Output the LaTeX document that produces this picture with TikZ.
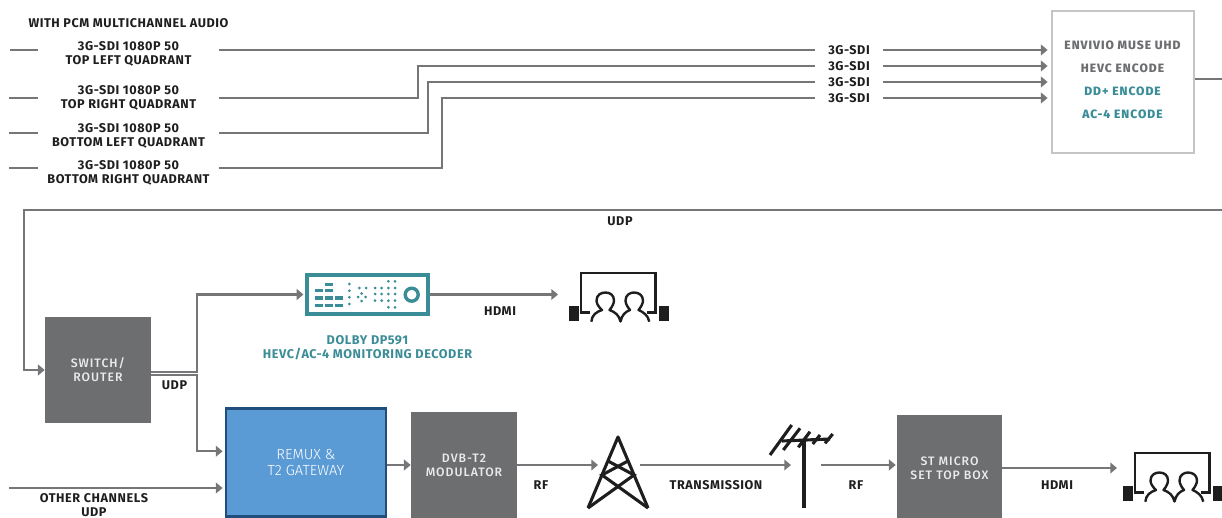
\documentclass[tikz,border=0pt]{standalone}
\usepackage{fontspec}
\setmainfont{Fira Sans}[LetterSpace=4.5]
\newfontfamily\boxfont{Fira Sans Medium}[LetterSpace=8]
\newfontfamily\plainfont{Fira Sans Light}[LetterSpace=0]
\usepackage{xcolor}
\usetikzlibrary{arrows.meta, positioning}
\definecolor{wiregray}{RGB}{118,118,120}
\definecolor{boxgray}{RGB}{109,110,112}
\definecolor{framegray}{RGB}{196,198,198}
\definecolor{tealtext}{RGB}{58,140,150}
\definecolor{remuxblue}{RGB}{91,155,213}
\definecolor{remuxedge}{RGB}{31,78,125}
\definecolor{icondark}{RGB}{30,30,30}
\tikzset{
    wire/.style={draw=wiregray, line width=1.5pt},
    flow/.style={wire, -{Triangle[length=4.8pt,width=7.6pt]}},
    caption/.style={font=\bfseries\fontsize{9}{10}\selectfont, align=center, inner sep=0pt, text=icondark},
    tealcaption/.style={caption, text=tealtext},
    sdilabel/.style={caption, minimum width=68*0.025cm},
    quadlabel/.style={caption, minimum width=180*0.025cm},
    graybox/.style={fill=boxgray, text=white!92!black, align=center, inner sep=0pt,
                    font=\boxfont\fontsize{8.7}{10}\selectfont},
    iconline/.style={draw=icondark, line width=2.2pt},
    tealbar/.style={fill=tealtext, draw=none},
    pics/viewers/.style={code={
        \draw[draw=icondark, line width=1.7pt] (9,39.5) -- (0,39.5) -- (0,0) -- (74.5,0) -- (74.5,39.5) -- (66,39.5);
        \fill[icondark] (-11.7,33) rectangle (-1.7,48);
        \fill[icondark] (77.7,33) rectangle (87.7,48);
        \draw[draw=icondark, line width=1.7pt, line join=round]
          (10.3,48.7) .. controls (11,42) and (15,39) .. (21,37)
          .. controls (17,33.5) and (15.5,30) .. (15.5,27.5)
          .. controls (15.5,22) and (20,19.5) .. (24.3,19.5)
          .. controls (29,19.5) and (33,22) .. (33,27.5)
          .. controls (33,30) and (31.5,33.5) .. (28.5,37)
          .. controls (34,39) and (38,42) .. (39.5,48.5)
          .. controls (41,42) and (44,39) .. (49,37)
          .. controls (46,33.5) and (44.5,30) .. (44.5,27.5)
          .. controls (44.5,22) and (49,19.5) .. (53,19.5)
          .. controls (57.5,19.5) and (62,22) .. (62,27.5)
          .. controls (62,30) and (60.5,33.5) .. (57.5,37)
          .. controls (62,39) and (67,42) .. (68.3,48.7);
    }},
}
\begin{document}
\begin{tikzpicture}[x=0.025cm, y=-0.025cm]
    \useasboundingbox (0,0) rectangle (1222,518);

    % sources
    \node[caption] (heading) at (128.5,23) {WITH PCM MULTICHANNEL AUDIO};
    \node[quadlabel] (quadone) at (128.5,53.5) {3G-SDI 1080P 50\\TOP LEFT QUADRANT};
    \node[quadlabel] (quadtwo) at (128.5,97.5) {3G-SDI 1080P 50\\TOP RIGHT QUADRANT};
    \node[quadlabel] (quadthree) at (128.5,135.5) {3G-SDI 1080P 50\\BOTTOM LEFT QUADRANT};
    \node[quadlabel] (quadfour) at (128.5,172.5) {3G-SDI 1080P 50\\BOTTOM RIGHT QUADRANT};
    \coordinate (srcone) at (10,50);
    \coordinate (srctwo) at (9,98);
    \coordinate (srcthree) at (9,133);
    \coordinate (srcfour) at (9,168);

    \node[sdilabel] (sdione) at (849,50) {3G-SDI};
    \node[sdilabel] (sditwo) at (849,66) {3G-SDI};
    \node[sdilabel] (sdithree) at (849,82) {3G-SDI};
    \node[sdilabel] (sdifour) at (849,98) {3G-SDI};

    % encoder
    \node[draw=framegray, line width=2pt, minimum width=142*0.025cm, minimum height=142*0.025cm] (encoder) at (1123,82) {};
    \node[caption, text=boxgray, font=\boxfont\bfseries\fontsize{8.6}{10}\selectfont] (enctext) at (1122.5,79.5)
      {ENVIVIO MUSE UHD\\[6.3pt]HEVC ENCODE\\[6.3pt]\textcolor{tealtext}{DD+ ENCODE}\\[6.3pt]\textcolor{tealtext}{AC-4 ENCODE}};

    \draw[wire] (srcone) -- (srcone -| quadone.west);
    \draw[wire] (srctwo) -- (srctwo -| quadtwo.west);
    \draw[wire] (srcthree) -- (srcthree -| quadthree.west);
    \draw[wire] (srcfour) -- (srcfour -| quadfour.west);
    \draw[wire] (srcone -| quadone.east) -- (srcone -| sdione.west);
    \draw[wire] (srctwo -| quadtwo.east) -- ++(199,0) |- (sditwo.west);
    \draw[wire] (srcthree -| quadthree.east) -- ++(209,0) |- (sdithree.west);
    \draw[wire] (srcfour -| quadfour.east) -- ++(223,0) |- (sdifour.west);
    \draw[flow, shorten >=3*0.025cm] (sdione.east) -- (sdione.east -| encoder.west);
    \draw[flow, shorten >=3*0.025cm] (sditwo.east) -- (sditwo.east -| encoder.west);
    \draw[flow, shorten >=3*0.025cm] (sdithree.east) -- (sdithree.east -| encoder.west);
    \draw[flow, shorten >=3*0.025cm] (sdifour.east) -- (sdifour.east -| encoder.west);

    % return path
    \coordinate (encout) at (1222,79);
    \coordinate (loopin) at (1222,210);
    \coordinate (loopturn) at (24,210);
    \draw[wire] (encout -| encoder.east) -- (encout);
    \node[caption] (udptop) at (620,221) {UDP};

    % switch and monitoring
    \node[graybox, minimum width=106*0.025cm, minimum height=106*0.025cm] (switch) at (98,370) {SWITCH/\\ROUTER};
    \draw[flow] (loopin) -- (loopturn) |- (switch.west);
    \node[caption] (udpswitch) at (174.5,385.5) {UDP};

    \node[draw=tealtext, line width=2.2pt, minimum width=121*0.025cm, minimum height=39*0.025cm] (decoder) at (367.5,294.5) {};
    \foreach \px/\py in {315/290.7, 315/298, 315/305.3, 325/284.7, 325/290.7, 325/298, 325/305.3, 335/298, 335/305.3}
      \fill[tealbar] (\px,\py-1.7) rectangle ++(7.5,3.4);
    \foreach \px/\py in {349.3/284, 349.3/290.7, 349.3/297.3, 349.3/304,
                         359.3/288, 366/288, 361.7/293.5, 358/297, 365.5/297, 361.7/301,
                         375/288, 381.7/288, 388.3/288, 395/288,
                         375/294, 381.7/294, 388.3/294, 395/294,
                         375/300.7, 381.7/300.7, 388.3/300.7, 395/300.7,
                         388.3/281.3, 395/281.3, 388.3/307.3, 395/307.3}
      \fill[tealbar] (\px,\py) circle (1.5);
    \draw[draw=tealtext, line width=2.4pt] (411.7,294.7) circle (6.5);
    \node[tealcaption] (decodertext) at (367.5,348) {DOLBY DP591\\HEVC/AC-4 MONITORING DECODER};

    \coordinate (tvonein) at (558,294.5);
    \draw[flow] (decoder.east) -- (tvonein);
    \node[caption] (hdmione) at (500,311) {HDMI};
    \pic at (581,273) {viewers};
    \draw[flow, shorten >=2*0.025cm] ([yshift=-1.4pt]switch.east) -- ++(46,0) |- (decoder.west);

    % transmission chain
    \node[fill=remuxblue, draw=remuxedge, line width=2pt, text=white, align=center, inner sep=0pt,
          font=\plainfont\fontsize{10.4}{11}\selectfont, minimum width=160*0.025cm, minimum height=108*0.025cm] (remux) at (306,462.5) {REMUX \&\\T2 GATEWAY};
    \node[graybox, minimum width=106*0.025cm, minimum height=106*0.025cm] (modulator) at (464,465) {DVB-T2\\MODULATOR};
    \node[graybox, minimum width=105*0.025cm, minimum height=106*0.025cm] (settop) at (949.5,468) {ST MICRO\\SET TOP BOX};

    \draw[flow, shorten >=2*0.025cm] ([yshift=-3.4pt]switch.east) -- ++(46,0) |- ([yshift=8pt]remux.west);
    \coordinate (otherin) at (9,488);
    \draw[flow, shorten >=2*0.025cm] (otherin) -- (otherin -| remux.west);
    \node[caption] (othertext) at (94,505.5) {OTHER CHANNELS\\UDP};
    \draw[flow] (remux.east |- modulator.west) -- (modulator.west);

    \coordinate (towerin) at (598,465);
    \coordinate (towerout) at (640,465);
    \coordinate (antennain) at (791,465);
    \coordinate (antennaout) at (821,465);
    \coordinate (tvtwoin) at (1117,468);
    \draw[flow] (modulator.east) -- (towerin);
    \draw[flow] (towerout) -- (antennain);
    \draw[flow, shorten >=1*0.025cm] (antennaout) -- (antennaout -| settop.west);
    \draw[flow] (settop.east) -- (tvtwoin);
    \node[caption] (rfone) at (541,485) {RF};
    \node[caption] (transmission) at (716,485) {TRANSMISSION};
    \node[caption] (rftwo) at (856,485) {RF};
    \node[caption] (hdmitwo) at (1057,485) {HDMI};

    % tower
    \draw[iconline, line join=round] (588,508) -- (618,437) -- (648,508);
    \draw[iconline] (608,461) -- (634,475) -- (588,508);
    \draw[iconline] (628,461) -- (602,475) -- (648,508);

    % antenna
    \draw[iconline] (804,441) -- (804,508);
    \draw[iconline] (782,441) -- (830,439);
    \draw[iconline] (770,455) -- (791.7,425);
    \draw[iconline] (783.3,450) -- (800,428.3);
    \draw[iconline] (798.3,447.3) -- (810,431.7);
    \draw[iconline] (812.7,444) -- (820,435);
    \draw[iconline] (825,443.3) -- (832.7,434);

    \pic at (1135,453) {viewers};
\end{tikzpicture}
\end{document}
